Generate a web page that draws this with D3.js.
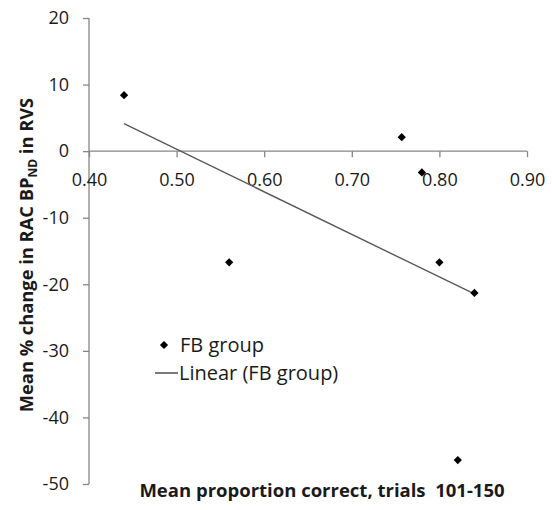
<!DOCTYPE html>
<html>
<head>
<meta charset="utf-8">
<script src="https://d3js.org/d3.v7.min.js"></script>
<style>
  body { margin: 0; background: #fff; }
  text { font-family: "Open Sans", sans-serif; fill: #1a1a1a; }
</style>
</head>
<body>
<div id="graph"></div>
<script>

// FB group points
var propCorrect = [0.44, 0.56, 0.757, 0.78, 0.80, 0.821, 0.84];
var pctChange   = [8.4, -16.7, 2.1, -3.2, -16.7, -46.4, -21.3];

var xTicks = [0.4, 0.5, 0.6, 0.7, 0.8, 0.9];
var yTicks = [20, 10, 0, -10, -20, -30, -40, -50];

var xTitle = "Mean proportion correct, trials  101-150";
var legendLabels = ["FB group", "Linear (FB group)"];

var width = 552, height = 510;
var plot = {left: 89, right: 527, top: 18, bottom: 484};

var svg = d3.select("#graph").append("svg")
    .attr("width", width)
    .attr("height", height);

var x = d3.scaleLinear().domain([0.4, 0.9]).range([plot.left, plot.right]);
var y = d3.scaleLinear().domain([-50, 20]).range([plot.bottom, plot.top]);

var axisColor = "#868686";
var tickFont = 18;

// plain hyphen minus like excel
var yFmt = function(d) { return String(d); };

// y axis, ticks out to the left
var yAxis = svg.append("g")
    .attr("transform", "translate(" + plot.left + ",0)")
    .call(d3.axisLeft(y).tickValues(yTicks).tickSize(6).tickPadding(14).tickFormat(yFmt));
yAxis.select(".domain").attr("stroke", axisColor).attr("stroke-width", 1.3).attr("d", "M0," + plot.top + "V" + plot.bottom);
yAxis.selectAll(".tick line").attr("stroke", axisColor).attr("stroke-width", 1.3);
yAxis.selectAll(".tick text").attr("font-size", tickFont).attr("font-family", "Open Sans").attr("fill", "#1a1a1a");

// x axis sits at y = 0
var xAxis = svg.append("g")
    .attr("transform", "translate(0," + y(0) + ")")
    .call(d3.axisBottom(x).tickValues(xTicks).tickSize(6).tickPadding(16).tickFormat(d3.format(".2f")));
xAxis.select(".domain").attr("stroke", axisColor).attr("stroke-width", 1.3).attr("d", "M" + plot.left + ",0H" + plot.right);
xAxis.selectAll(".tick line").attr("stroke", axisColor).attr("stroke-width", 1.3);
xAxis.selectAll(".tick text").attr("font-size", tickFont).attr("font-family", "Open Sans").attr("fill", "#1a1a1a");

// least squares line, as excel draws it
var n = propCorrect.length;
var mx = d3.mean(propCorrect), my = d3.mean(pctChange);
var sxy = 0, sxx = 0;
for (var i = 0; i < n; i++) {
  sxy += (propCorrect[i] - mx) * (pctChange[i] - my);
  sxx += (propCorrect[i] - mx) * (propCorrect[i] - mx);
}
var slope = sxy / sxx, icpt = my - slope * mx;
var xr = d3.extent(propCorrect);

svg.append("line")
    .attr("x1", x(xr[0])).attr("y1", y(icpt + slope * xr[0]))
    .attr("x2", x(xr[1])).attr("y2", y(icpt + slope * xr[1]))
    .attr("stroke", "#595959").attr("stroke-width", 1.4);

var diamond = d3.symbol().type(d3.symbolSquare).size(34);

svg.append("g").selectAll("path")
    .data(propCorrect)
    .enter().append("path")
    .attr("d", diamond)
    .attr("transform", function(d, i) {
      return "translate(" + x(d) + "," + y(pctChange[i]) + ") rotate(45)";
    })
    .attr("fill", "#000");

// legend
var lg = svg.append("g");
lg.append("path").attr("d", diamond).attr("fill", "#000")
    .attr("transform", "translate(164,345) rotate(45)");
lg.append("text").attr("x", 180).attr("y", 352).attr("font-size", 20).text(legendLabels[0]);
lg.append("line").attr("x1", 155).attr("x2", 178).attr("y1", 373).attr("y2", 373)
    .attr("stroke", "#404040").attr("stroke-width", 1.4);
lg.append("text").attr("x", 179).attr("y", 380).attr("font-size", 20).text(legendLabels[1]);

// axis titles
svg.append("text")
    .attr("x", 322).attr("y", 497)
    .attr("text-anchor", "middle")
    .attr("font-size", 18.5).attr("font-weight", "bold")
    .style("white-space", "pre")
    .text(xTitle);

var yt = svg.append("text")
    .attr("transform", "translate(33," + ((plot.top + plot.bottom) / 2 + 4) + ") rotate(-90)")
    .attr("text-anchor", "middle")
    .attr("font-size", 18.3).attr("font-weight", "bold");
yt.append("tspan").text("Mean % change in RAC BP");
yt.append("tspan").attr("font-size", 12).attr("dy", 4).text("ND");
yt.append("tspan").attr("dy", -4).text(" in RVS");

</script>
</body>
</html>
